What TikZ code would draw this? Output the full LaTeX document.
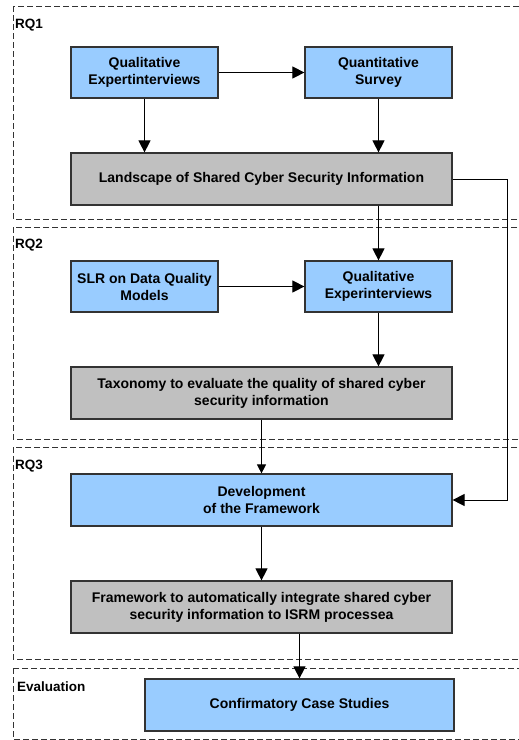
\documentclass[tikz,border=0pt]{standalone}
\usepackage{fontspec}
\setmainfont{Liberation Sans}
\usetikzlibrary{arrows.meta}
\definecolor{boxblue}{HTML}{99CCFF}
\definecolor{boxgray}{HTML}{C0C0C0}
\definecolor{edge}{HTML}{333333}
\begin{document}
\begin{tikzpicture}[x=1pt,y=-1pt,
  frame/.style={draw=edge,line width=0.8pt,dash pattern=on 6pt off 3pt},
  blk/.style={draw=edge,line width=1.2pt,align=center,font=\bfseries\fontsize{14}{17}\selectfont,inner sep=0pt},
  bluebox/.style={blk,fill=boxblue},
  graybox/.style={blk,fill=boxgray},
  tag/.style={anchor=west,font=\bfseries\fontsize{13.5}{16}\selectfont,inner sep=0pt},
  flow/.style={line width=1pt,-{Triangle[length=12pt,width=12pt]}},
  flowsmall/.style={line width=1pt,-{Triangle[length=9pt,width=9pt]}}]
\useasboundingbox (0,0) rectangle (519,740);
\begin{scope}
\clip (0,0) rectangle (519,740);
% dashed section frames
\draw[frame] (13,6) rectangle (530,219);
\draw[frame] (13,227) rectangle (530,439);
\draw[frame] (13,447) rectangle (530,659);
\draw[frame] (13,668) rectangle (530,739);
\end{scope}

\node[tag] (rq1) at (15,25) {RQ1};
\node[tag] (rq2) at (15,245) {RQ2};
\node[tag] (rq3) at (15,466) {RQ3};
\node[tag] (ev) at (17,687) {Evaluation};

% RQ1
\node[bluebox,minimum width=147pt,minimum height=51pt] (qe1) at (144.5,72.5) {Qualitative\\Expertinterviews};
\node[bluebox,minimum width=147pt,minimum height=51pt] (qs) at (378.5,72.5) {Quantitative\\Survey};
\node[graybox,minimum width=381pt,minimum height=52pt] (land) at (261.5,179) {Landscape of Shared Cyber Security Information};

% RQ2
\node[bluebox,minimum width=147pt,minimum height=51pt] (slr) at (144.5,286.5) {SLR on Data Quality\\Models};
\node[bluebox,minimum width=147pt,minimum height=51pt] (qe2) at (378.5,286.5) {Qualitative\\Experinterviews};
\node[graybox,minimum width=381pt,minimum height=52pt] (tax) at (261.5,393) {Taxonomy to evaluate the quality of shared cyber\\security information};

% RQ3
\node[bluebox,minimum width=381pt,minimum height=52pt] (dev) at (261.5,500) {Development\\of the Framework};
\node[graybox,minimum width=381pt,minimum height=52pt] (fw) at (261.5,607) {Framework to automatically integrate shared cyber\\security information to ISRM processea};

% Evaluation
\node[bluebox,minimum width=309pt,minimum height=52pt] (ccs) at (299.5,705) {Confirmatory Case Studies};

% connectors
\draw[flow] (qe1) -- (qs);
\draw[flow] (qe1) -- (qe1|-land.north);
\draw[flow] (qs) -- (qs|-land.north);
\coordinate (turn1) at (507.5,179);
\coordinate (turn2) at (507.5,500);
\draw[flow] (land.east) -- (turn1) -- (turn2) -- (dev.east);
\draw[flow] (qs|-land.south) -- (qe2);
\draw[flow] (slr) -- (qe2);
\draw[flow] (qe2) -- (qe2|-tax.north);
\draw[flowsmall] (tax) -- (dev);
\draw[flow] (dev) -- (fw);
\draw[flow] (ccs|-fw.south) -- (ccs);
\end{tikzpicture}
\end{document}
